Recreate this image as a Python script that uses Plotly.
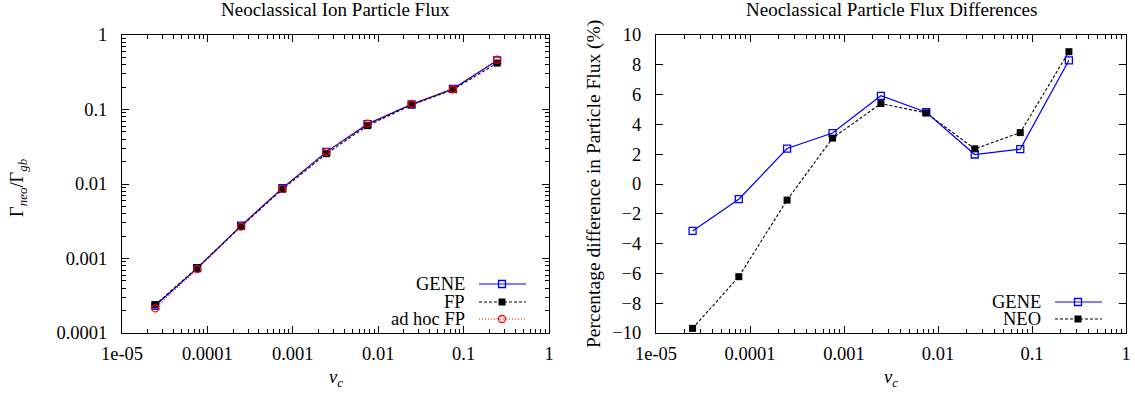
import plotly.graph_objects as go

# ---- data ----
nu_c = [2.45e-5, 7.6e-5, 2.48e-4, 7.55e-4, 2.47e-3, 7.5e-3, 2.46e-2, 7.5e-2, 2.47e-1]

flux_gene = [2.32e-4, 7.42e-4, 2.76e-3, 8.79e-3, 0.0270, 0.0636, 0.1173, 0.1893, 0.455]
flux_fp = [2.40e-4, 7.50e-4, 2.70e-3, 8.50e-3, 0.0255, 0.0607, 0.115, 0.185, 0.420]
flux_adhoc = [2.14e-4, 7.20e-4, 2.68e-3, 8.60e-3, 0.0268, 0.0645, 0.119, 0.187, 0.466]

diff_gene = [-3.15, -1.02, 2.38, 3.42, 5.92, 4.82, 1.98, 2.34, 8.30]
diff_neo = [-9.69, -6.22, -1.08, 3.08, 5.40, 4.77, 2.36, 3.45, 8.88]

x_tickvals = [1e-5, 1e-4, 1e-3, 1e-2, 1e-1, 1]
x_ticktext = ["1e-05", "0.0001", "0.001", "0.01", "0.1", "1"]
y1_tickvals = [1e-4, 1e-3, 1e-2, 1e-1, 1]
y1_ticktext = ["0.0001", "0.001", "0.01", "0.1", "1"]
y2_tickvals = list(range(-10, 11, 2))
minor_mult = [2, 3, 4, 5, 6, 7, 8, 9]

W, H = 1135, 394
FONT = "Liberation Serif"
FS = 18.5
BLUE = "#0000ff"
RED = "#ff0000"
BLACK = "#000000"


def px(x):
    return x / W


def py(y):
    return 1 - y / H


def log_minor_vals(majors):
    return [m * v for v in majors[:-1] for m in minor_mult]


fig = go.Figure()

gene_line = dict(color=BLUE, width=1.2)
gene_marker = dict(symbol="square-open", size=7, color=BLUE, line=dict(width=1.3, color=BLUE))
fp_line = dict(color=BLACK, width=1.1, dash="3px,2px")
fp_marker = dict(symbol="square", size=7, color=BLACK)
adhoc_line = dict(color=RED, width=1.1, dash="1px,2px")
adhoc_marker = dict(symbol="circle-open", size=7, color=RED, line=dict(width=1.3, color=RED))

# left panel
fig.add_trace(go.Scatter(x=nu_c, y=flux_gene, mode="lines+markers", name="GENE",
                         line=gene_line, marker=gene_marker, xaxis="x", yaxis="y"))
fig.add_trace(go.Scatter(x=nu_c, y=flux_fp, mode="lines+markers", name="FP",
                         line=fp_line, marker=fp_marker, xaxis="x", yaxis="y"))
fig.add_trace(go.Scatter(x=nu_c, y=flux_adhoc, mode="lines+markers", name="ad hoc FP",
                         line=adhoc_line, marker=adhoc_marker, xaxis="x", yaxis="y"))

# right panel
fig.add_trace(go.Scatter(x=nu_c, y=diff_gene, mode="lines+markers", name="GENE",
                         line=gene_line, marker=gene_marker, xaxis="x2", yaxis="y2"))
fig.add_trace(go.Scatter(x=nu_c, y=diff_neo, mode="lines+markers", name="NEO",
                         line=fp_line, marker=fp_marker, xaxis="x2", yaxis="y2"))

# custom gnuplot-style keys (text right-aligned, sample on the right) on an overlay pixel axis
keys = [
    # (text, text_right_x, y, line_x0, line_x1, marker_x, style)
    ("GENE", 467, 284, 479, 526, 502, "gene"),
    ("FP", 467, 302, 479, 526, 502, "fp"),
    ("ad hoc FP", 467, 319, 479, 526, 502, "adhoc"),
    ("GENE", 1043, 302, 1055, 1102, 1078, "gene"),
    ("NEO", 1043, 319, 1055, 1102, 1078, "fp"),
]
styles = {
    "gene": (gene_line, gene_marker),
    "fp": (fp_line, fp_marker),
    "adhoc": (adhoc_line, adhoc_marker),
}
annotations = []
for text, tx, ky, lx0, lx1, mx, st in keys:
    ln, mk = styles[st]
    fig.add_trace(go.Scatter(x=[lx0, lx1], y=[ky, ky], mode="lines", line=ln,
                             xaxis="x3", yaxis="y3", hoverinfo="skip"))
    fig.add_trace(go.Scatter(x=[mx], y=[ky], mode="markers", marker=mk,
                             xaxis="x3", yaxis="y3", hoverinfo="skip"))
    annotations.append(dict(text=text, x=px(tx), y=py(ky), xref="paper", yref="paper",
                            xanchor="right", yanchor="middle", showarrow=False,
                            font=dict(family=FONT, size=FS, color=BLACK)))

# titles and axis labels
labels = [
    dict(text="Neoclassical Ion Particle Flux", x=px(335.5), y=py(9), xanchor="center", yanchor="middle"),
    dict(text="Neoclassical Particle Flux Differences", x=px(891), y=py(9), xanchor="center", yanchor="middle"),
    dict(text="<i>ν</i><sub><i>c</i></sub>", x=px(335.5), y=py(378), xanchor="center", yanchor="middle"),
    dict(text="<i>ν</i><sub><i>c</i></sub>", x=px(891), y=py(378), xanchor="center", yanchor="middle"),
    dict(text="Γ<sub><i>neo</i></sub>/Γ<sub><i>gb</i></sub>", x=px(18), y=py(188), xanchor="center",
         yanchor="middle", textangle=-90),
    dict(text="Percentage difference in Particle Flux (%)", x=px(594), y=py(184), xanchor="center",
         yanchor="middle", textangle=-90),
]
for a in labels:
    a.update(xref="paper", yref="paper", showarrow=False, font=dict(family=FONT, size=FS, color=BLACK))
labels[0]["font"] = dict(family=FONT, size=19, color=BLACK)
labels[1]["font"] = dict(family=FONT, size=19, color=BLACK)
labels[-1]["font"] = dict(family=FONT, size=19.5, color=BLACK)
annotations += labels

common_axis = dict(showline=True, linecolor=BLACK, linewidth=1, mirror="ticks", ticks="inside",
                   ticklen=7, tickwidth=1, tickcolor=BLACK, showgrid=False, zeroline=False,
                   automargin=False, tickfont=dict(family=FONT, size=FS, color=BLACK))


def log_minor(majors):
    return dict(ticks="inside", ticklen=4, tickwidth=1, tickcolor=BLACK, showgrid=False,
                tickmode="array", tickvals=log_minor_vals(majors))


ydom = [py(333), py(35)]
fig.update_layout(
    width=W, height=H,
    margin=dict(l=0, r=0, t=0, b=0, autoexpand=False),
    paper_bgcolor="white", plot_bgcolor="rgba(0,0,0,0)",
    showlegend=False,
    hovermode=False,
    font=dict(family=FONT, size=FS, color=BLACK),
    annotations=annotations,
    xaxis=dict(common_axis, type="log", domain=[px(122), px(549)], range=[-5, 0],
               tickvals=x_tickvals, ticktext=x_ticktext, minor=log_minor(x_tickvals), anchor="y",
               ticklabelstandoff=4),
    yaxis=dict(common_axis, type="log", domain=ydom, range=[-4, 0],
               tickvals=y1_tickvals, ticktext=y1_ticktext, minor=log_minor(y1_tickvals), anchor="x",
               ticklabelstandoff=10),
    xaxis2=dict(common_axis, type="log", domain=[px(656), px(1126)], range=[-5, 0],
                tickvals=x_tickvals, ticktext=x_ticktext, minor=log_minor(x_tickvals), anchor="y2",
                ticklabelstandoff=4),
    yaxis2=dict(common_axis, domain=ydom, range=[-10, 10], tickvals=y2_tickvals,
                anchor="x2", ticklabelstandoff=10),
    xaxis3=dict(domain=[0, 1], range=[0, W], visible=False, fixedrange=True, anchor="y3",
                automargin=False),
    yaxis3=dict(domain=[0, 1], range=[H, 0], visible=False, fixedrange=True, anchor="x3",
                automargin=False),
)

fig.write_html("out.html", config={"displayModeBar": False, "staticPlot": True},
               post_script="document.body.style.margin='0px';")
